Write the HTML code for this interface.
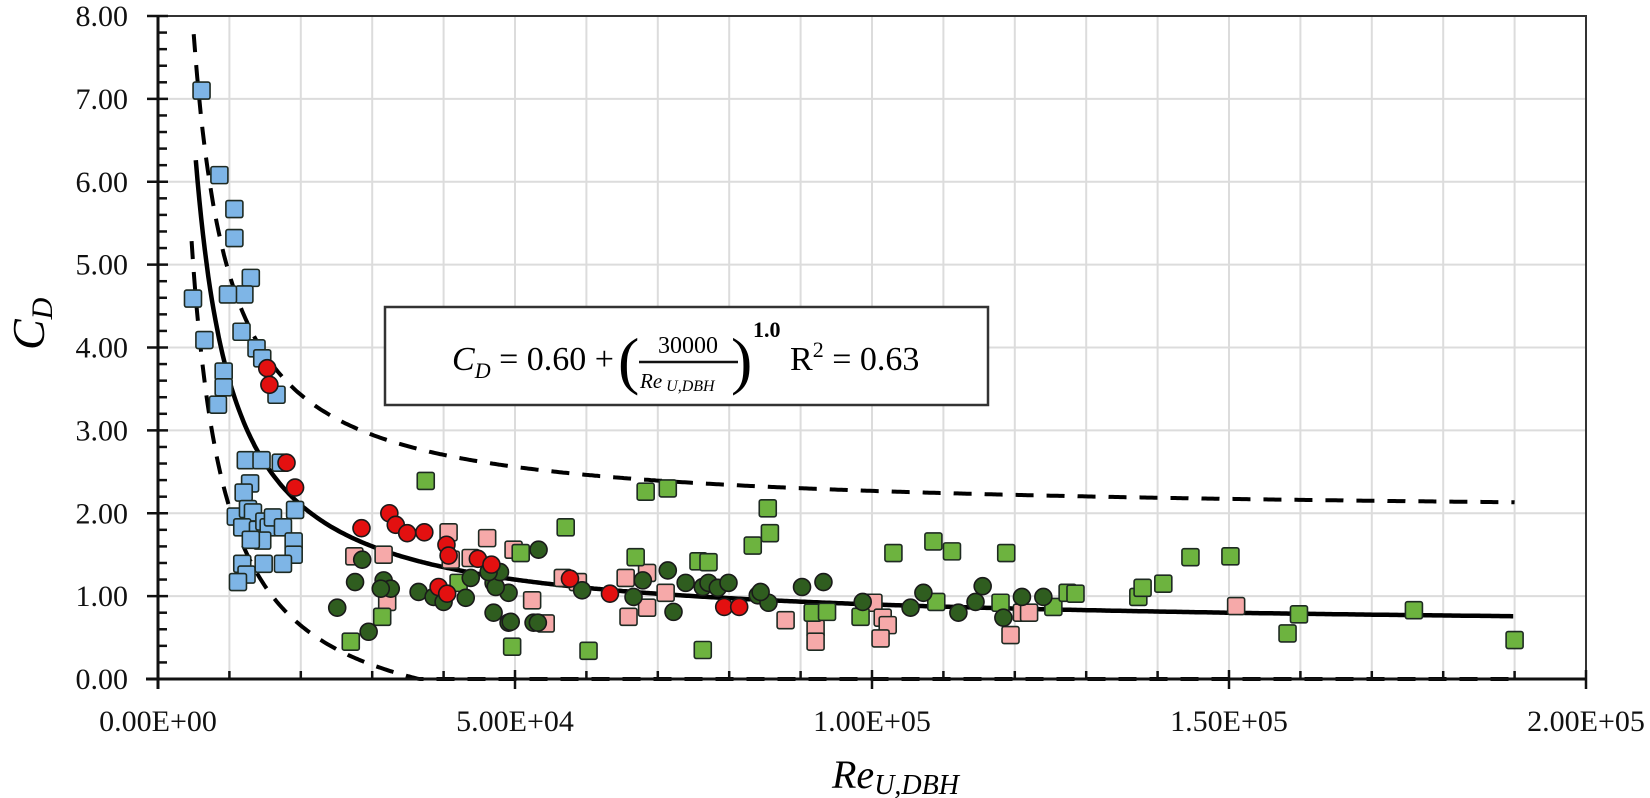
<!DOCTYPE html>
<html>
<head>
<meta charset="utf-8">
<style>
  html,body{margin:0;padding:0;background:#fff;}
  #chart{display:block;}
  text{font-family:"Liberation Serif",serif;}
</style>
</head>
<body>
<svg id="chart" width="1650" height="798" viewBox="0 0 1650 798" xmlns="http://www.w3.org/2000/svg">
  <rect x="0" y="0" width="1650" height="798" fill="#fff"/>
  <g id="grid"></g>
  <g id="curves"></g>
  <g id="marks"></g>
  <g id="axes"></g>
  <g id="legend">
    <rect x="385" y="307" width="603" height="98" fill="#fff" stroke="#333" stroke-width="2.5"/>
    <text x="452" y="370" font-size="34" font-family="'DejaVu Serif',serif"><tspan font-style="italic">C</tspan><tspan font-style="italic" font-size="22" dy="8">D</tspan><tspan dy="-8"> = 0.60 + </tspan></text>
    <text x="618" y="382" font-size="64" font-family="'DejaVu Sans',sans-serif" font-weight="200">(</text>
    <text x="688" y="353" font-size="24" text-anchor="middle" font-family="'DejaVu Sans',sans-serif">30000</text>
    <line x1="639" y1="362" x2="738" y2="362" stroke="#111" stroke-width="2.5"/>
    <text x="640" y="388" font-size="21" font-family="'DejaVu Sans',sans-serif"><tspan font-style="italic">Re</tspan><tspan font-style="italic" font-size="16" dx="4" dy="3">U,DBH</tspan></text>
    <text x="731" y="382" font-size="64" font-family="'DejaVu Sans',sans-serif" font-weight="200">)</text>
    <text x="753" y="337" font-size="22" font-weight="bold" font-family="'DejaVu Sans',sans-serif">1.0</text>
    <text x="790" y="370" font-size="34" font-family="'DejaVu Serif',serif">R<tspan font-size="22" dy="-13">2</tspan><tspan dy="13"> = 0.63</tspan></text>
  </g>
  <text x="0" y="0" font-size="46" font-style="italic" transform="translate(44,350) rotate(-90)">C<tspan font-size="30" dy="8">D</tspan></text>
  <text x="832" y="788" font-size="40" font-style="italic">Re<tspan font-size="28" dy="6">U,DBH</tspan></text>
</svg>
<script>
// ---- data (Re in thousands, CD) ----
const xTickLabels = ["0.00E+00","5.00E+04","1.00E+05","1.50E+05","2.00E+05"];
const xTickValues = [0, 50, 100, 150, 200];
const yTickLabels = ["0.00","1.00","2.00","3.00","4.00","5.00","6.00","7.00","8.00"];
const yTickValues = [0,1,2,3,4,5,6,7,8];

const blueRe = [6.1,8.6,10.7,10.7,13,12.1,9.8,4.9,6.5,11.7,13.8,14.6,9.2,9.2,8.4,16.6,12.3,14.5,17.2,12.9,12,10.9,12.6,13.3,11.8,14,14.9,15.5,16.1,14.6,17.5,19.2,19,19,11.8,12.4,11.2,14.8,17.5,13];
const blueCD = [7.10,6.08,5.67,5.32,4.84,4.64,4.64,4.59,4.09,4.19,3.99,3.87,3.71,3.52,3.31,3.43,2.64,2.64,2.61,2.36,2.25,1.96,2.05,2.01,1.83,1.80,1.90,1.83,1.95,1.67,1.83,2.04,1.66,1.50,1.39,1.26,1.17,1.39,1.39,1.68];

const pinkRe = [27.5,40.7,46.1,49.8,52.4,31.6,32.1,43.8,41,54.3,56.7,58.8,65.5,65.9,68.5,68.5,71.1,87.9,92.1,92.1,100.2,101.5,102.2,101.2,121,122,119.4,151];
const pinkCD = [1.48,1.77,1.70,1.56,0.95,1.50,0.93,1.46,1.44,0.67,1.22,1.17,1.22,0.75,1.28,0.86,1.04,0.71,0.61,0.45,0.92,0.74,0.65,0.49,0.80,0.80,0.53,0.88];

const greenRe = [37.5,31.4,27,49.6,57.1,60.3,68.3,71.4,66.9,75.7,77.1,76.3,85.4,85.7,83.3,42.1,50.8,103,108.6,111.2,118.8,91.7,93.7,98.4,109,118,125.4,127.4,128.5,137.3,137.9,140.8,144.6,150.2,158.2,159.8,175.9,190];
const greenCD = [2.39,0.75,0.45,0.39,1.83,0.34,2.26,2.30,1.47,1.42,1.41,0.35,2.06,1.76,1.61,1.16,1.52,1.52,1.66,1.54,1.52,0.80,0.81,0.75,0.93,0.92,0.87,1.04,1.03,0.99,1.10,1.15,1.47,1.48,0.55,0.78,0.83,0.47];

const darkRe = [28.6,27.6,25.1,29.5,31.6,32.6,31.2,36.5,38.6,40,43.1,43.8,47,49.1,47,49.1,53.3,52.6,47.3,49.4,53.2,47.9,46.3,59.4,66.6,67.9,71.4,72.2,73.9,76.3,77.1,78.4,79.9,84,85.5,84.4,90.2,93.2,98.7,105.4,107.2,112.1,114.5,115.5,118.4,121,124];
const darkCD = [1.44,1.17,0.86,0.57,1.19,1.09,1.09,1.05,0.99,0.93,0.98,1.22,1.16,1.04,0.80,0.68,1.56,0.68,1.11,0.69,0.68,1.29,1.29,1.07,0.99,1.19,1.31,0.81,1.16,1.11,1.16,1.10,1.16,1.01,0.92,1.05,1.11,1.17,0.93,0.86,1.04,0.80,0.93,1.12,0.74,0.99,0.99];

const redRe = [15.3,15.6,18,19.2,28.5,32.4,33.3,34.9,37.3,40.4,40.7,39.3,40.5,44.8,46.7,57.7,63.3,79.3,81.4];
const redCD = [3.75,3.55,2.61,2.31,1.82,2.00,1.86,1.76,1.77,1.62,1.49,1.11,1.03,1.45,1.38,1.21,1.03,0.87,0.87];

// fit parameters: CD = a + b / Re
const fitA = 0.60, fitB = 30.0;      // Re in thousands
const upperA = 1.98, upperB = 29.0;
const lowerA = -0.78, lowerB = 28.5;

// ---- scales ----
const X0 = 158, X1 = 1586, Y0 = 679, Y1 = 16;
const xMax = 200, yMax = 8;
function sx(v){ return X0 + (X1 - X0) * v / xMax; }
function sy(v){ return Y0 - (Y0 - Y1) * v / yMax; }

const NS = "http://www.w3.org/2000/svg";
function mk(tag, attrs, parent){
  const e = document.createElementNS(NS, tag);
  for (const k in attrs) e.setAttribute(k, attrs[k]);
  parent.appendChild(e);
  return e;
}
const grid = document.getElementById('grid');
const axes = document.getElementById('axes');
const curves = document.getElementById('curves');
const marks = document.getElementById('marks');

// grid
for (let v = 10; v < xMax; v += 10) {
  const l = mk('line', {x1: sx(v), x2: sx(v), y1: Y1, y2: Y0, stroke: '#dcdcdc', 'stroke-width': 2}, grid);
  
  
}
for (let v = 1; v < yMax; v += 1) {
  const l = mk('line', {x1: X0, x2: X1, y1: sy(v), y2: sy(v), stroke: '#dcdcdc', 'stroke-width': 2}, grid);
  
  
}

// curves
function curvePath(a, b, start, clip){
  let d = '';
  for (let re = start; re <= 190; re += 0.25) {
    let v = a + b / re;
    if (v > yMax) continue;
    if (clip && v < 0) v = 0;
    d += (d ? 'L' : 'M') + sx(re).toFixed(1) + ',' + sy(v).toFixed(1);
  }
  return d;
}
const up = mk('path', {d: curvePath(upperA, upperB, 3, false), fill: 'none', stroke: '#000', 'stroke-width': 4, 'stroke-dasharray': '18,13'}, curves);


const lo = mk('path', {d: curvePath(lowerA, lowerB, 4.7, true), fill: 'none', stroke: '#000', 'stroke-width': 4, 'stroke-dasharray': '18,13'}, curves);


const fit = mk('path', {d: curvePath(fitA, fitB, 5.3, false), fill: 'none', stroke: '#000', 'stroke-width': 4.5}, curves);



// markers
function squares(xs, ys, fill, name){
  for (let i = 0; i < xs.length; i++) {
    const r = mk('rect', {x: sx(xs[i]) - 8.5, y: sy(ys[i]) - 8.5, width: 17, height: 17, rx: 2, fill: fill, stroke: '#1e2a22', 'stroke-width': 1.6}, marks);
    
    
  }
}
function circles(xs, ys, fill, name){
  for (let i = 0; i < xs.length; i++) {
    const c = mk('circle', {cx: sx(xs[i]), cy: sy(ys[i]), r: 8.5, fill: fill, stroke: '#1a1a1a', 'stroke-width': 1.6}, marks);
    
    
  }
}
squares(blueRe, blueCD, '#7eb5e6', 'blue-square-point');
squares(pinkRe, pinkCD, '#f6a9a9', 'pink-square-point');
squares(greenRe, greenCD, '#6db33f', 'green-square-point');
circles(darkRe, darkCD, '#2f5d1f', 'dark-green-circle-point');
circles(redRe, redCD, '#e31010', 'red-circle-point');

// frame & axes
const frame = mk('rect', {x: X0, y: Y1, width: X1 - X0, height: Y0 - Y1, fill: 'none', stroke: '#333', 'stroke-width': 2}, axes);


const xa = mk('line', {x1: X0 - 12, x2: X1, y1: Y0, y2: Y0, stroke: '#111', 'stroke-width': 3}, axes);


const ya = mk('line', {x1: X0, x2: X0, y1: Y1, y2: Y0 + 10, stroke: '#111', 'stroke-width': 3}, axes);



for (let v = 0; v <= 8.001; v += 0.2) {
  const major = Math.abs(v - Math.round(v)) < 1e-6;
  const t = mk('line', {x1: major ? X0 - 11 : X0, x2: major ? X0 + 10 : X0 + 9, y1: sy(v), y2: sy(v), stroke: '#111', 'stroke-width': 2.5}, axes);
  
  
}
for (let v = 0; v <= xMax; v += 10) {
  const major = v % 50 === 0;
  const t = mk('line', {x1: sx(v), x2: sx(v), y1: major ? Y0 - 9 : Y0 - 8, y2: major ? Y0 + 10 : Y0, stroke: '#111', 'stroke-width': 2.5}, axes);
  
  
}
for (let i = 0; i < yTickValues.length; i++) {
  const t = mk('text', {x: 128, y: sy(yTickValues[i]) + 10, 'font-size': 30, 'text-anchor': 'end', fill: '#111'}, axes);
  t.textContent = yTickLabels[i];
  
  
}
for (let i = 0; i < xTickValues.length; i++) {
  const t = mk('text', {x: sx(xTickValues[i]), y: 731, 'font-size': 30, 'text-anchor': 'middle', fill: '#111'}, axes);
  t.textContent = xTickLabels[i];
  
  
}
</script>
</body>
</html>
